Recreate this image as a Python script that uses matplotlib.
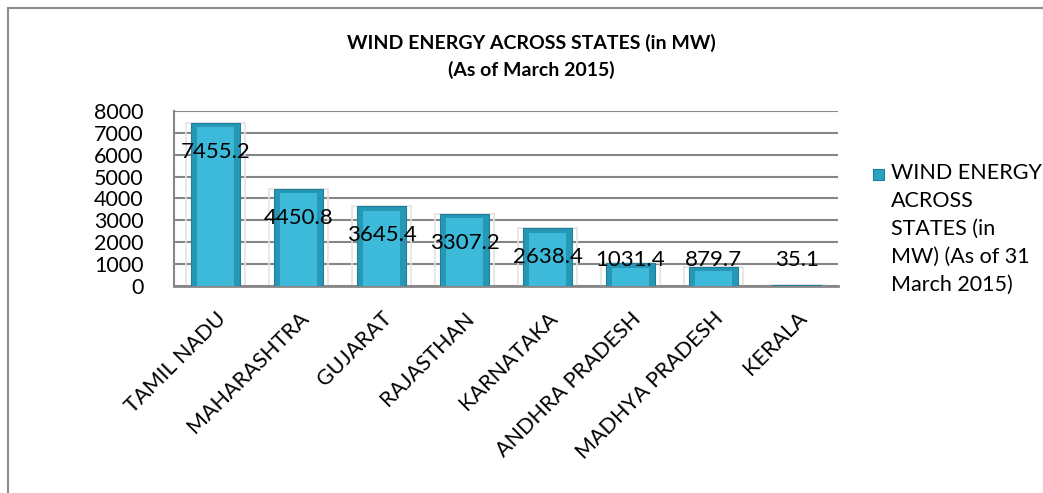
import matplotlib.pyplot as plt
from matplotlib.patches import Rectangle

states = ["TAMIL NADU", "MAHARASHTRA", "GUJARAT", "RAJASTHAN", "KARNATAKA",
          "ANDHRA PRADESH", "MADHYA PRADESH", "KERALA"]
capacity = [7455.2, 4450.8, 3645.4, 3307.2, 2638.4, 1031.4, 879.7, 35.1]
yticks = [0, 1000, 2000, 3000, 4000, 5000, 6000, 7000, 8000]

plt.rcParams['font.family'] = ['Lato', 'DejaVu Sans']

W, H = 1043, 493
fig = plt.figure(figsize=(W / 100, H / 100), dpi=100)
fig.patch.set_facecolor('white')

# outer chart frame (cut off at the right and bottom)
fig.patches.append(Rectangle((8 / W, -0.05), 1.1, 1 - 8 / H + 0.05,
                             transform=fig.transFigure, fill=False,
                             edgecolor='#8c8c8c', linewidth=1.5))

ax = fig.add_axes([174 / W, 1 - 286 / H, (838 - 174) / W, (286 - 111) / H])
x = range(len(states))

# soft light outline behind bars
ax.bar(x, capacity, width=0.72, color='none', edgecolor='#e3e3e3',
       linewidth=1.2, zorder=2)
ax.bar(x, capacity, width=0.58, color='#2797b6', edgecolor='#1f7f99',
       linewidth=0.8, zorder=3)
inner = [max(v - 200, 0) for v in capacity]
ax.bar(x, inner, width=0.44, color='#3dbad9', linewidth=0, zorder=4)

for i, v in enumerate(capacity):
    ax.text(i, max(v - 1326, 1190), f"{v}", ha='center', va='center',
            fontsize=16, color='black', zorder=6)

ax.set_ylim(0, 8000)
ax.set_xlim(-0.5, len(states) - 0.5)
ax.set_yticks(yticks)
ax.set_yticklabels([str(t) for t in yticks], fontsize=15.5)
ax.yaxis.grid(True, color='#868686', linewidth=1.5)
ax.set_axisbelow(True)
ax.tick_params(axis='y', length=0, pad=22)
ax.tick_params(axis='x', length=0, pad=16)
ax.set_xticks(list(x))
ax.set_xticklabels(states, rotation=45, ha='right', rotation_mode='anchor',
                   fontsize=15.5)
for s in ['top', 'right']:
    ax.spines[s].set_visible(False)
ax.spines['left'].set_color('#868686')
ax.spines['left'].set_linewidth(1.5)
ax.spines['bottom'].set_color('#868686')
ax.spines['bottom'].set_linewidth(2)

fig.text(531 / W, 1 - 43 / H, "WIND ENERGY ACROSS STATES (in MW)",
         ha='center', va='center', fontsize=14, fontweight='bold')
fig.text(531 / W, 1 - 70 / H, "(As of March 2015)",
         ha='center', va='center', fontsize=14, fontweight='bold')

# legend
fig.patches.append(Rectangle((873 / W, 1 - 180 / H), 11 / W, 11 / H,
                             transform=fig.transFigure, facecolor='#2aa2c2',
                             edgecolor='#1f7f99', linewidth=0.8))
fig.text(891 / W, 1 - 163 / H,
         "WIND ENERGY\nACROSS\nSTATES (in\nMW) (As of 31\nMarch 2015)",
         ha='left', va='top', fontsize=15.5, linespacing=1.5)

fig.savefig('out.png', dpi=100)
